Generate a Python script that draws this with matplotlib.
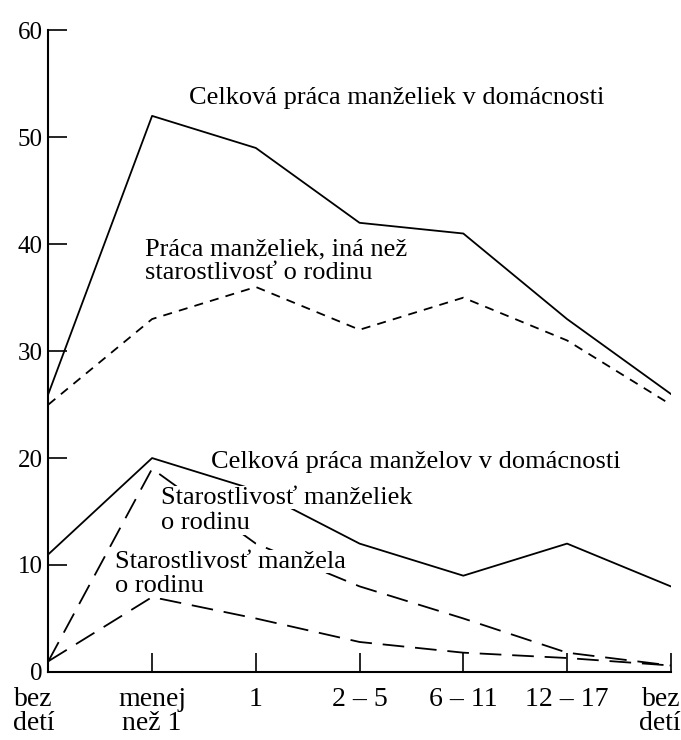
import numpy as np
import matplotlib.pyplot as plt
from matplotlib.transforms import ScaledTranslation

plt.rcParams["font.family"] = ["Liberation Serif", "DejaVu Serif"]

categories = ["bez\ndetí", "menej\nnež 1", "1", "2 – 5", "6 – 11", "12 – 17", "bez\ndetí"]
wife_total = [26, 52, 49, 42, 41, 33, 26]
wife_other = [25, 33, 36, 32, 35, 31, 25]
husb_total = [11, 20, 17, 12, 9, 12, 8]
wife_care = [1, 19, 12, 8, 5, 1.8, 0.6]
husb_care = [1, 7, 5, 2.8, 1.8, 1.3, 0.6]

x = np.arange(len(categories))

fig = plt.figure(figsize=(6.81, 7.40), dpi=100)
ax = fig.add_axes([0.071, 0.092, 0.914, 0.867])

lw = 1.3
ax.plot(x, wife_total, color="black", lw=lw)
ax.plot(x, wife_other, color="black", lw=lw, dashes=(5, 4))
ax.plot(x, husb_total, color="black", lw=lw)
ax.plot(x, wife_care, color="black", lw=lw, dashes=(12, 6))
ax.plot(x, husb_care, color="black", lw=lw, dashes=(12, 6))

fs = 19
box = dict(facecolor="white", edgecolor="none", pad=0.3)
ax.text(1.36, 53.7, "Celková práca manželiek v domácnosti", fontsize=fs, va="center")
ax.text(0.93, 39.5, "Práca manželiek, iná než", fontsize=fs, va="center")
ax.text(0.93, 37.3, "starostlivosť o rodinu", fontsize=fs, va="center")
ax.text(1.57, 19.6, "Celková práca manželov v domácnosti", fontsize=fs, va="center")
ax.text(1.09, 16.3, "Starostlivosť manželiek", fontsize=fs, va="center", bbox=box, zorder=5)
ax.text(1.09, 13.9, "o rodinu", fontsize=fs, va="center", bbox=box, zorder=5)
ax.text(0.64, 10.3, "Starostlivosť manžela", fontsize=fs, va="center", bbox=box, zorder=5)
ax.text(0.64, 8.0, "o rodinu", fontsize=fs, va="center", bbox=box, zorder=5)

ax.set_xlim(0, len(categories) - 1)
ax.set_ylim(0, 60)
ax.set_yticks(range(0, 61, 10))
ax.set_xticks(x)
ax.set_xticklabels(categories, fontsize=20, linespacing=0.95)
ax.tick_params(axis="y", direction="in", length=14, width=1.2, labelsize=18, pad=4)
ax.tick_params(axis="x", direction="in", length=14, width=1.2, pad=11)
for s in ["top", "right"]:
    ax.spines[s].set_visible(False)
for s in ["left", "bottom"]:
    ax.spines[s].set_linewidth(1.5)

labels = ax.get_xticklabels()
labels[0].set_transform(labels[0].get_transform() + ScaledTranslation(-0.15, 0, fig.dpi_scale_trans))
labels[-1].set_horizontalalignment("right")
labels[-1].set_transform(labels[-1].get_transform() + ScaledTranslation(0.1, 0, fig.dpi_scale_trans))

fig.savefig("out.png", dpi=100)
